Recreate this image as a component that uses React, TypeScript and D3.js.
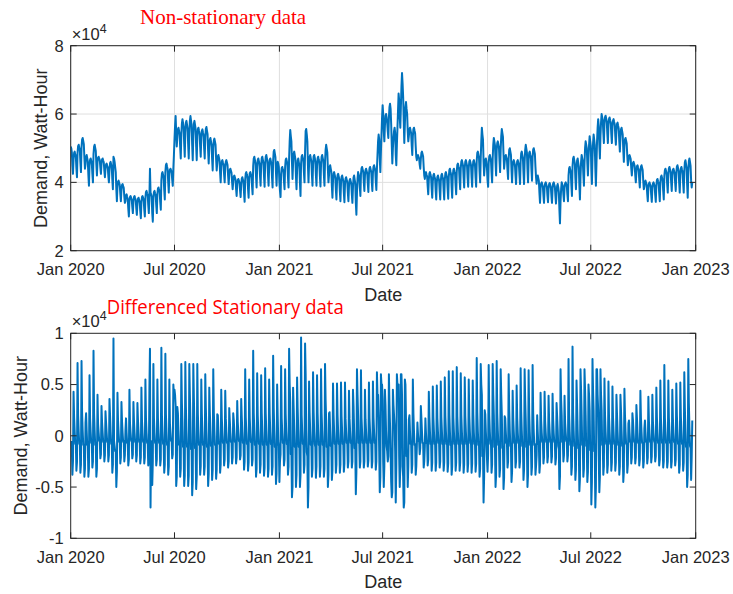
import React from 'react'
import * as d3 from 'd3'

// daily demand, in hundreds of Wh, starting Wed 1 Jan 2020 (first row Wed-Sun, then Mon-Sun weeks)
const demandHundreds: number[] = [
  505, 500, 488, 450, 425,
  468, 486, 490, 482, 475, 441, 415,
  486, 506, 510, 502, 494, 458, 430,
  503, 525, 530, 521, 512, 472, 440,
  453, 475, 480, 471, 462, 422, 390,
  449, 466, 470, 463, 456, 425, 400,
  483, 505, 510, 501, 492, 452, 420,
  460, 472, 475, 470, 465, 443, 425,
  454, 467, 470, 464, 459, 434, 415,
  439, 452, 455, 449, 444, 419, 400,
  436, 456, 460, 452, 444, 408, 380,
  475, 470, 460, 445, 430, 380, 345,
  387, 402, 405, 399, 393, 366, 345,
  378, 392, 395, 389, 384, 359, 340,
  345, 362, 365, 358, 352, 323, 300,
  345, 357, 360, 355, 350, 328, 310,
  343, 357, 360, 354, 349, 324, 305,
  337, 352, 355, 349, 343, 316, 295,
  342, 357, 360, 354, 348, 321, 300,
  355, 372, 375, 368, 362, 333, 310,
  355, 440, 370, 365, 358, 310, 285,
  355, 372, 375, 368, 362, 333, 310,
  365, 382, 385, 378, 372, 343, 320,
  406, 426, 430, 422, 414, 378, 350,
  430, 451, 455, 446, 438, 400, 370,
  425, 437, 440, 435, 430, 408, 390,
  440, 480, 525, 565, 594, 545, 505,
  533, 555, 560, 551, 542, 502, 470,
  540, 572, 585, 574, 563, 514, 475,
  547, 575, 580, 569, 558, 509, 470,
  540, 580, 594, 581, 568, 510, 465,
  535, 572, 580, 568, 557, 505, 465,
  535, 556, 560, 551, 543, 505, 475,
  530, 551, 555, 546, 538, 500, 470,
  530, 557, 562, 551, 541, 492, 455,
  502, 525, 530, 520, 511, 468, 435,
  500, 523, 528, 519, 510, 468, 435,
  456, 476, 480, 472, 464, 428, 400,
  445, 462, 465, 458, 452, 423, 400,
  444, 461, 465, 458, 451, 420, 395,
  422, 437, 440, 434, 428, 401, 380,
  402, 417, 420, 414, 408, 381, 360,
  394, 407, 410, 405, 399, 376, 357,
  393, 411, 415, 408, 401, 368, 343,
  408, 426, 430, 422, 415, 381, 355,
  410, 427, 430, 424, 417, 388, 365,
  448, 470, 475, 466, 457, 417, 385,
  446, 466, 470, 462, 454, 418, 390,
  449, 471, 475, 466, 457, 418, 387,
  453, 475, 480, 471, 462, 422, 390,
  445, 466, 470, 462, 453, 415, 385,
  463, 490, 495, 484, 474, 427, 390,
  440, 460, 455, 445, 400, 375, 357,
  425, 442, 445, 438, 432, 403, 380,
  445, 466, 470, 462, 453, 415, 385,
  470, 520, 553, 535, 520, 460, 410,
  457, 484, 490, 479, 468, 418, 380,
  437, 464, 470, 459, 448, 398, 360,
  456, 476, 480, 472, 464, 428, 400,
  490, 550, 556, 540, 520, 450, 400,
  453, 475, 480, 471, 462, 422, 390,
  452, 476, 480, 472, 461, 420, 390,
  449, 471, 475, 466, 458, 418, 388,
  453, 475, 480, 471, 462, 422, 390,
  460, 495, 510, 499, 488, 438, 400,
  422, 445, 450, 440, 431, 388, 355,
  406, 426, 430, 422, 414, 378, 350,
  401, 421, 425, 417, 409, 373, 345,
  397, 416, 420, 412, 404, 369, 342,
  394, 411, 415, 408, 401, 370, 345,
  389, 406, 410, 403, 396, 365, 340,
  385, 414, 420, 408, 397, 340, 305,
  370, 410, 430, 423, 416, 385, 360,
  424, 441, 445, 438, 431, 400, 375,
  420, 436, 440, 433, 426, 396, 372,
  424, 441, 445, 438, 431, 400, 375,
  428, 446, 450, 443, 436, 403, 378,
  440, 480, 520, 540, 525, 470, 430,
  490, 540, 590, 626, 600, 550, 520,
  565, 595, 600, 590, 575, 550, 530,
  590, 620, 630, 615, 570, 510, 455,
  500, 530, 550, 560, 545, 480, 450,
  510, 560, 610, 660, 640, 590, 560,
  620, 680, 720, 690, 650, 580, 515,
  570, 620, 635, 615, 600, 550, 520,
  536, 556, 560, 552, 544, 508, 480,
  535, 556, 560, 551, 543, 505, 475,
  465, 478, 480, 475, 470, 452, 440,
  469, 486, 490, 483, 476, 445, 420,
  410, 427, 430, 423, 417, 388, 365,
  408, 426, 430, 422, 415, 381, 355,
  403, 421, 425, 417, 410, 376, 350,
  399, 416, 420, 413, 406, 375, 350,
  403, 421, 425, 417, 410, 376, 350,
  407, 426, 430, 422, 414, 379, 352,
  415, 436, 440, 431, 423, 385, 355,
  418, 436, 440, 432, 425, 391, 365,
  432, 451, 455, 447, 440, 406, 380,
  441, 461, 465, 457, 449, 413, 385,
  442, 461, 465, 457, 449, 414, 387,
  442, 461, 465, 458, 450, 414, 387,
  441, 462, 465, 457, 449, 414, 387,
  463, 486, 490, 481, 472, 432, 400,
  470, 520, 560, 540, 525, 460, 420,
  445, 466, 470, 462, 440, 405, 387,
  456, 476, 480, 472, 464, 428, 400,
  470, 510, 530, 519, 508, 458, 420,
  493, 515, 520, 511, 502, 462, 430,
  495, 535, 556, 544, 533, 481, 440,
  459, 476, 480, 473, 466, 435, 410,
  470, 495, 500, 490, 480, 435, 400,
  444, 461, 465, 458, 451, 420, 395,
  444, 462, 465, 458, 451, 420, 395,
  461, 485, 490, 480, 471, 428, 395,
  460, 495, 510, 499, 488, 438, 400,
  464, 486, 490, 481, 473, 435, 405,
  474, 496, 500, 491, 483, 445, 415,
  396, 416, 420, 412, 404, 368, 340,
  382, 397, 400, 394, 388, 361, 340,
  383, 397, 400, 394, 388, 362, 342,
  381, 395, 398, 392, 386, 360, 340,
  381, 397, 400, 394, 388, 360, 338,
  370, 389, 395, 385, 372, 320, 280,
  345, 380, 400, 394, 389, 364, 345,
  384, 397, 400, 395, 389, 364, 345,
  420, 441, 445, 436, 428, 390, 360,
  447, 470, 475, 465, 456, 413, 380,
  434, 464, 470, 458, 446, 392, 350,
  415, 460, 480, 471, 462, 422, 390,
  455, 500, 520, 510, 500, 455, 420,
  470, 510, 535, 521, 507, 440, 395,
  470, 515, 540, 525, 510, 440, 390,
  455, 520, 560, 585, 565, 510, 470,
  535, 575, 600, 591, 583, 545, 515,
  571, 591, 595, 587, 579, 543, 515,
  568, 586, 590, 582, 575, 541, 515,
  563, 581, 585, 577, 570, 536, 510,
  550, 571, 575, 566, 558, 520, 490,
  530, 555, 560, 550, 540, 495, 460,
  506, 526, 530, 522, 514, 478, 450,
  462, 477, 480, 474, 468, 441, 420,
  442, 457, 460, 454, 448, 421, 400,
  430, 447, 450, 443, 437, 408, 385,
  429, 446, 450, 443, 436, 405, 380,
  387, 402, 405, 399, 393, 366, 345,
  383, 397, 400, 394, 389, 363, 343,
  383, 397, 400, 395, 388, 363, 343,
  390, 407, 410, 403, 397, 368, 345,
  399, 416, 420, 413, 406, 375, 350,
  419, 436, 440, 433, 426, 395, 370,
  424, 441, 445, 438, 431, 400, 375,
  420, 437, 440, 434, 427, 398, 375,
  426, 446, 450, 442, 434, 398, 370,
  422, 441, 445, 437, 430, 396, 370,
  432, 459, 465, 454, 443, 393, 355,
  430, 462, 470, 460, 448, 405, 385,
  400,
]

const tickDates = ['2020-01-01', '2020-07-01', '2021-01-01', '2021-07-01', '2022-01-01', '2022-07-01', '2023-01-01']
const tickLabels = ['Jan 2020', 'Jul 2020', 'Jan 2021', 'Jul 2021', 'Jan 2022', 'Jul 2022', 'Jan 2023']
const topTicks = [20000, 40000, 60000, 80000]
const topTickLabels = ['2', '4', '6', '8']
const diffTicks = [-10000, -5000, 0, 5000, 10000]
const diffTickLabels = ['-1', '-0.5', '0', '0.5', '1']

const W = 733
const H = 594
const left = 70.7
const right = 695.7
const blue = '#0072BD'
const axisColor = '#262626'
const font = '"Liberation Sans", Arial, sans-serif'

const parse = d3.timeParse('%Y-%m-%d')
const start = parse('2020-01-01') as Date
const demand = demandHundreds.map((v, i) => ({ date: d3.timeDay.offset(start, i), value: v * 100 }))
const differenced = demand.slice(1).map((d, i) => ({ date: d.date, value: d.value - demand[i].value }))

const x = d3.scaleTime().domain([start, parse('2023-01-01') as Date]).range([left, right])

type Pt = { date: Date; value: number }

function Panel(props: {
  id: string
  data: Pt[]
  top: number
  bottom: number
  domain: [number, number]
  ticks: number[]
  labels: string[]
  grid: boolean
  ylabelX: number
}) {
  const { id, data, top, bottom, domain, ticks, labels, grid, ylabelX } = props
  const y = d3.scaleLinear().domain(domain).range([bottom, top])
  const line = d3.line<Pt>().x(d => x(d.date)).y(d => y(d.value))
  const tl = 6
  return (
    <g>
      <defs>
        <clipPath id={id}>
          <rect x={left} y={top} width={right - left} height={bottom - top} />
        </clipPath>
      </defs>
      <rect x={left} y={top} width={right - left} height={bottom - top} fill="#fff" />
      {grid && tickDates.map(t => (
        <line key={'gx' + t} x1={x(parse(t) as Date)} x2={x(parse(t) as Date)} y1={top} y2={bottom} stroke="#dfdfdf" strokeWidth={1} />
      ))}
      {grid && ticks.map(t => (
        <line key={'gy' + t} x1={left} x2={right} y1={y(t)} y2={y(t)} stroke="#dfdfdf" strokeWidth={1} />
      ))}
      <path d={line(data) || ''} fill="none" stroke={blue} strokeWidth={2} strokeLinejoin="round" clipPath={`url(#${id})`} />
      <rect x={left} y={top} width={right - left} height={bottom - top} fill="none" stroke={axisColor} strokeWidth={1} />
      {tickDates.map((t, i) => {
        const px = x(parse(t) as Date)
        return (
          <g key={'tx' + t}>
            <line x1={px} x2={px} y1={bottom} y2={bottom - tl} stroke={axisColor} />
            <line x1={px} x2={px} y1={top} y2={top + tl} stroke={axisColor} />
            <text x={px} y={bottom + 24.3} textAnchor="middle" fontSize={16.5} fill={axisColor} fontFamily={font}>{tickLabels[i]}</text>
          </g>
        )
      })}
      {ticks.map((t, i) => (
        <g key={'ty' + t}>
          <line x1={left} x2={left + tl} y1={y(t)} y2={y(t)} stroke={axisColor} />
          <line x1={right} x2={right - tl} y1={y(t)} y2={y(t)} stroke={axisColor} />
          <text x={left - 7} y={y(t)} dy="0.36em" textAnchor="end" fontSize={16.5} fill={axisColor} fontFamily={font}>{labels[i]}</text>
        </g>
      ))}
      <text x={left + 1} y={top - 6} fontSize={16.5} fill={axisColor} fontFamily={font}>
        ×10<tspan dy={-7} fontSize={12.5}>4</tspan>
      </text>
      <text x={(left + right) / 2} y={bottom + 50} textAnchor="middle" fontSize={18} fill={axisColor} fontFamily={font}>Date</text>
      <text transform={`translate(${ylabelX},${(top + bottom) / 2}) rotate(-90)`} textAnchor="middle" fontSize={18} fill={axisColor} fontFamily={font}>
        Demand, Watt-Hour
      </text>
    </g>
  )
}

export default function App() {
  return (
    <svg width={W} height={H} style={{ position: 'absolute', left: 0, top: 0, background: '#fff' }}>
      <rect width={W} height={H} fill="#fff" />
      <Panel id="c1" data={demand} top={45.7} bottom={250.7} domain={[20000, 80000]} ticks={topTicks} labels={topTickLabels} grid={true} ylabelX={47} />
      <Panel id="c2" data={differenced} top={333.3} bottom={538.3} domain={[-10000, 10000]} ticks={diffTicks} labels={diffTickLabels} grid={false} ylabelX={27} />
      <text x={140} y={24} fontSize={21} fill="#ff0000" fontFamily='"Liberation Serif", "Times New Roman", serif'>Non-stationary data</text>
      <text x={106.7} y={314} fontSize={20} fill="#ff0000" fontFamily='"Open Sans", "Liberation Sans", sans-serif' textLength={237} lengthAdjust="spacingAndGlyphs">Differenced Stationary data</text>
    </svg>
  )
}
